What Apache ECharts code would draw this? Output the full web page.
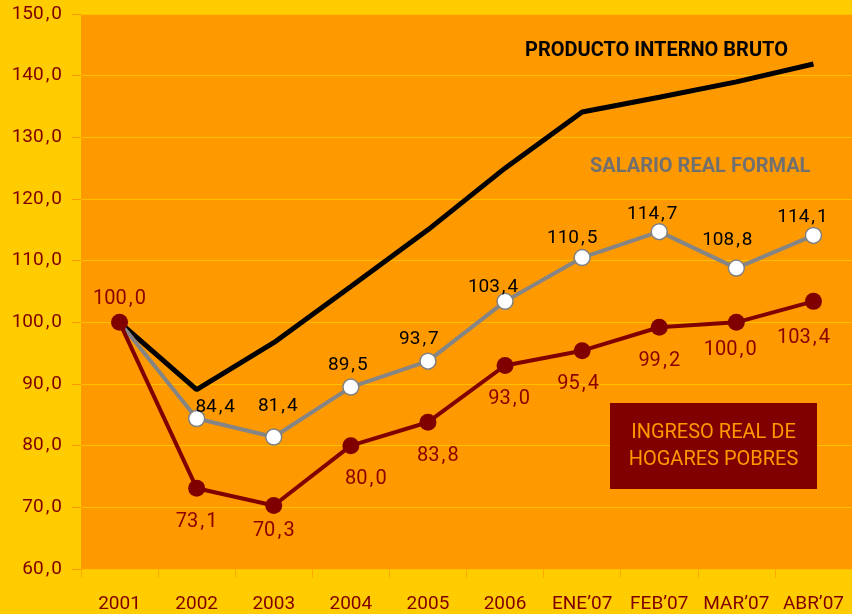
<!DOCTYPE html>
<html lang="es">
<head>
    <meta charset="UTF-8">
    <title>PIB, salario e ingreso</title>
    <script src="https://cdn.jsdelivr.net/npm/echarts@6/dist/echarts.min.js"></script>
    <style>
        html, body { margin: 0; padding: 0; background: #FFCC00; }
        #chart { width: 852px; height: 614px; }
    </style>
</head>
<body>
<div id="chart"></div>
<script>
  var categories = ['2001', '2002', '2003', '2004', '2005', '2006', "ENE\u201907", "FEB\u201907", "MAR\u201907", "ABR\u201907"];
  var pib = [100.0, 89.1, 96.7, 105.8, 115.0, 125.0, 134.1, 136.5, 139.0, 141.9];
  var salario = [100.0, 84.4, 81.4, 89.5, 93.7, 103.4, 110.5, 114.7, 108.8, 114.1];
  var ingreso = [100.0, 73.1, 70.3, 80.0, 83.8, 93.0, 95.4, 99.2, 100.0, 103.4];

  // pequeños ajustes de las etiquetas, como en el original
  var salarioLabelShift = [[0, 0], [-12, -11], [4, -11], [-3, -2], [-9, -2], [-12, 6], [-10, 1], [-7, 3], [-9, -8], [-11, 2]];
  var ingresoLabelShift = [[0, 10], [0, 0], [0, -8], [15, 0], [10, 0], [4, 0], [-4, 0], [0, 0], [-6, -6], [-10, 3]];

  var fontFam = 'Roboto, "Noto Sans", sans-serif';
  function fmt (v) {
    return Number(v).toFixed(1).replace('.', '\u200A,\u200A');
  }

  var salarioData = salario.map(function (v, i) {
    if (i === 0) return { value: v, symbolSize: 0, label: { show: false } };
    if (i === 1) return { value: v, label: { position: 'right', offset: salarioLabelShift[i] } };
    return { value: v, label: { offset: salarioLabelShift[i] } };
  });
  var ingresoData = ingreso.map(function (v, i) {
    if (i === 0) return { value: v, label: { position: 'top', offset: ingresoLabelShift[i] } };
    return { value: v, label: { offset: ingresoLabelShift[i] } };
  });

  var chart = echarts.init(document.getElementById('chart'));
  chart.setOption({
    backgroundColor: '#FFCC00',
    animation: false,
    grid: {
      left: 81, right: 0, top: 14, bottom: 44,
      show: true, backgroundColor: '#FF9900', borderWidth: 0
    },
    xAxis: {
      type: 'category',
      data: categories,
      boundaryGap: true,
      axisLine: { show: false },
      axisTick: { show: true, interval: 0, length: 9, lineStyle: { color: '#FFA800' } },
      axisLabel: { interval: 0, color: '#800000', fontSize: 19, fontFamily: fontFam, margin: 26 }
    },
    yAxis: {
      type: 'value',
      min: 60, max: 150, interval: 10,
      axisLine: { show: false },
      axisTick: { show: true, length: 9, lineStyle: { color: '#FF9900' } },
      axisLabel: { color: '#800000', fontSize: 19, fontFamily: fontFam, margin: 19,
        formatter: function (v) { return fmt(v); } },
      splitLine: { lineStyle: { color: '#FFC000', width: 1 } }
    },
    series: [
      {
        name: 'PRODUCTO INTERNO BRUTO',
        type: 'line',
        data: pib,
        symbol: 'none',
        lineStyle: { color: '#000000', width: 5 },
        z: 3
      },
      {
        name: 'SALARIO REAL FORMAL',
        type: 'line',
        data: salarioData,
        symbol: 'circle',
        symbolSize: 16,
        itemStyle: { color: '#FFFFFF', borderColor: '#808080', borderWidth: 1.5 },
        lineStyle: { color: '#858585', width: 4 },
        label: { show: true, position: 'top', distance: 2, color: '#000000',
          fontSize: 19, fontFamily: fontFam, formatter: function (p) { return fmt(p.value); } },
        z: 4
      },
      {
        name: 'INGRESO REAL DE HOGARES POBRES',
        type: 'line',
        data: ingresoData,
        symbol: 'circle',
        symbolSize: 17,
        itemStyle: { color: '#800000' },
        lineStyle: { color: '#800000', width: 4 },
        label: { show: true, position: 'bottom', distance: 15, color: '#8B0000',
          fontSize: 20, fontFamily: fontFam, formatter: function (p) { return fmt(p.value); } },
        z: 5
      }
    ],
    graphic: [
      {
        type: 'text', left: 525, top: 41, z: 10,
        style: { text: 'PRODUCTO INTERNO BRUTO', fill: '#000000', font: 'bold 20px ' + fontFam }
      },
      {
        type: 'text', left: 590, top: 157, z: 10,
        style: { text: 'SALARIO REAL FORMAL', fill: '#707070', font: 'bold 20px ' + fontFam }
      },
      {
        type: 'group', left: 610, top: 403, z: 10,
        children: [
          { type: 'rect', z: 10, shape: { x: 0, y: 0, width: 207, height: 86 }, style: { fill: '#800000' } },
          {
            type: 'text', z: 11, x: 103.5, y: 43,
            style: { text: 'INGRESO REAL DE\nHOGARES POBRES', fill: '#FF9900', font: '20px ' + fontFam,
              align: 'center', verticalAlign: 'middle', lineHeight: 27 }
          }
        ]
      }
    ]
  });
</script>
</body>
</html>
